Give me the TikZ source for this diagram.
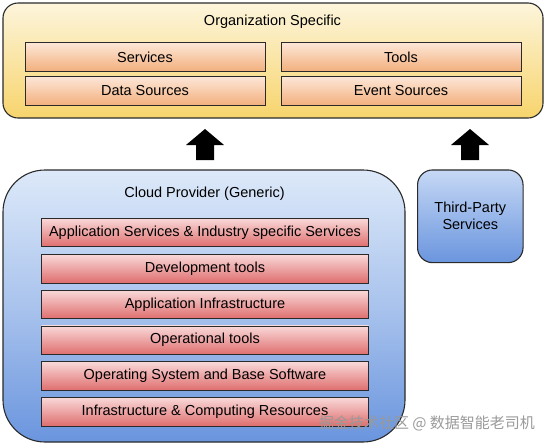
\documentclass[tikz,border=0pt]{standalone}
\usepackage{fontspec}
\setmainfont{Liberation Sans}
\newfontfamily\cjk{Noto Sans CJK SC}
\definecolor{orgtop}{HTML}{FDF5DC}
\definecolor{orgbot}{HTML}{F7D46C}
\definecolor{ortop}{HTML}{FDE7D8}
\definecolor{orbot}{HTML}{F2AF7C}
\definecolor{blutop}{HTML}{DDE9F9}
\definecolor{blubot}{HTML}{6A95DE}
\definecolor{tptop}{HTML}{C6D8F5}
\definecolor{rdtop}{HTML}{F9D8D8}
\definecolor{rdbot}{HTML}{DF6E6E}
\definecolor{edge}{HTML}{2A2A2A}
\begin{document}
\begin{tikzpicture}[x=1pt,y=-1pt,
  every node/.style={font=\fontsize{14.5}{17}\selectfont, inner sep=0pt},
  outerbox/.style={draw=edge, line width=1.1pt, minimum width=#1},
  orgbox/.style={outerbox=540pt, minimum height=115pt, rounded corners=15pt, top color=orgtop, bottom color=orgbot},
  orbox/.style={draw=edge, line width=0.9pt, minimum width=240pt, minimum height=29pt, top color=ortop, bottom color=orbot},
  cloudbox/.style={outerbox=402pt, minimum height=272pt, rounded corners=42pt, top color=blutop, bottom color=blubot, middle color=blutop!55!blubot},
  tpbox/.style={outerbox=105.5pt, minimum height=92.7pt, rounded corners=15pt, top color=tptop, bottom color=blubot, align=center},
  rdbox/.style={draw=edge, line width=0.9pt, minimum width=327pt, minimum height=28.5pt, top color=rdtop, bottom color=rdbot},
  blockarrow/.style={fill=black}
]
\useasboundingbox (0,0) rectangle (546,445);
% Organization specific
\node[orgbox] (org) at (273,60.5) {};
\node (orgtitle) at (272.5,22) {Organization Specific};
\node[orbox] (services) at (145,57) {Services};
\node[orbox] (tools) at (401,57) {Tools};
\node[orbox] (datasrc) at (145,91) {Data Sources};
\node[orbox] (eventsrc) at (401,91) {Event Sources};
% Cloud provider
\node[cloudbox] (cloud) at (204,306) {};
\node (cloudtitle) at (204.5,194) {Cloud Provider (Generic)};
\node[rdbox] (l1) at (205,232.5) {Application Services \& Industry specific Services};
\node[rdbox] (l2) at (205,268.7) {Development tools};
\node[rdbox] (l3) at (205,304.5) {Application Infrastructure};
\node[rdbox] (l4) at (205,340.2) {Operational tools};
\node[rdbox] (l5) at (205,376) {Operating System and Base Software};
\node[rdbox] (l6) at (205,411.8) {Infrastructure \& Computing Resources};
% Third party
\node[tpbox] (tp) at (470.3,216.3) {Third-Party\\Services};
% block arrows
\coordinate (a1) at (205,129);
\coordinate (a2) at (470,129);
\fill[blockarrow] (a1) -- ++(19,16) -- ++(-10,0) -- ++(0,15) -- ++(-18,0) -- ++(0,-15) -- ++(-10,0) -- cycle;
\fill[blockarrow] (a2) -- ++(19,16) -- ++(-10,0) -- ++(0,15) -- ++(-18,0) -- ++(0,-15) -- ++(-10,0) -- cycle;
% watermark
\node[text=black!40, font=\cjk\fontsize{15}{17}\selectfont] (wm) at (427,423) {掘金技术社区 @ 数据智能老司机};
\end{tikzpicture}
\end{document}
